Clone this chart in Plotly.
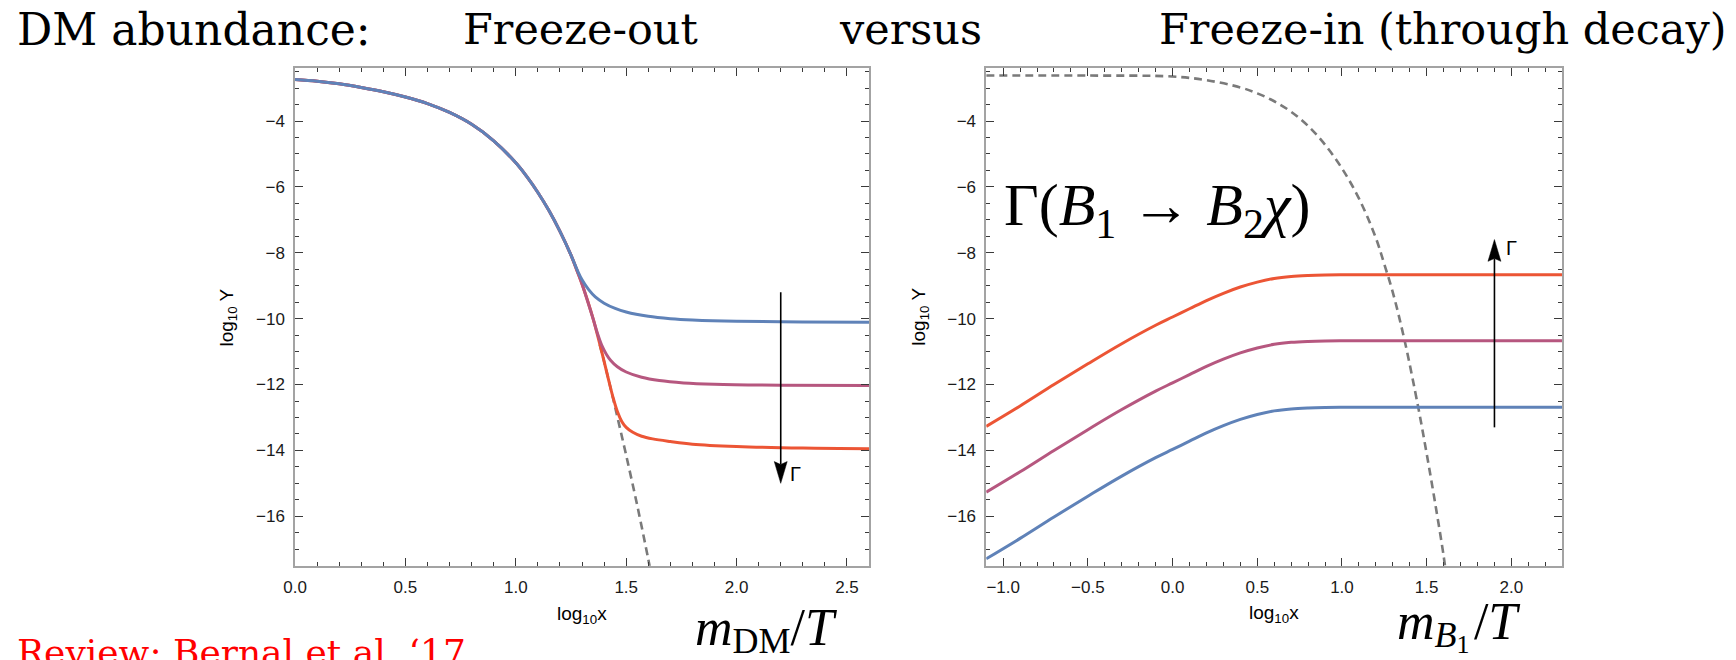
import plotly.graph_objects as go

W, H = 1736, 660

# ---- Freeze-out panel (log10 x, log10 Y) ----
fo_common_x = [0.0, 0.1, 0.2, 0.3, 0.4, 0.5, 0.6, 0.7, 0.8, 0.9, 1.0, 1.05, 1.1, 1.15, 1.2, 1.25]
fo_common_y = [-2.74, -2.79, -2.87, -2.98, -3.11, -3.27, -3.47, -3.74, -4.10, -4.60, -5.27, -5.69,
               -6.17, -6.72, -7.35, -8.07]

fo_blue_tail_x = [1.28, 1.30, 1.33, 1.36, 1.40, 1.45, 1.50, 1.60, 1.70, 1.80, 2.00, 2.30, 2.60]
fo_blue_tail_y = [-8.55, -8.82, -9.12, -9.34, -9.53, -9.69, -9.80, -9.93, -10.00, -10.04, -10.08,
                  -10.10, -10.11]

fo_purple_tail_x = [1.28, 1.30, 1.35, 1.37, 1.39, 1.41, 1.43, 1.46, 1.50, 1.57, 1.65, 1.76, 1.90, 2.20, 2.60]
fo_purple_tail_y = [-8.59, -8.95, -10.00, -10.45, -10.82, -11.08, -11.27, -11.46, -11.62, -11.78,
                    -11.88, -11.95, -11.99, -12.02, -12.03]

fo_red_tail_x = [1.28, 1.30, 1.35, 1.40, 1.42, 1.44, 1.46, 1.48, 1.50, 1.53, 1.57, 1.62, 1.70, 1.80,
                 2.00, 2.30, 2.60]
fo_red_tail_y = [-8.59, -8.95, -10.00, -11.30, -11.85, -12.38, -12.82, -13.12, -13.30, -13.45, -13.57,
                 -13.65, -13.73, -13.81, -13.88, -13.93, -13.95]

fo_eq_x = [1.38, 1.40, 1.42, 1.44, 1.46, 1.50, 1.55, 1.60, 1.62]
fo_eq_y = [-10.78, -11.30, -11.85, -12.40, -12.98, -14.15, -15.67, -17.30, -18.00]

# ---- Freeze-in panel ----
fi_x = [-1.1, -0.9, -0.7, -0.5, -0.3, -0.1, 0.0, 0.1, 0.2, 0.3, 0.4, 0.5, 0.6, 0.7, 0.8, 0.9, 1.0, 1.5, 2.3]
fi_red_y = [-13.27, -12.65, -12.00, -11.37, -10.76, -10.20, -9.95, -9.70, -9.45, -9.23, -9.04, -8.89,
            -8.78, -8.72, -8.69, -8.675, -8.67, -8.67, -8.67]
fi_purple_y = [-15.27, -14.65, -14.00, -13.37, -12.76, -12.20, -11.95, -11.70, -11.45, -11.23, -11.04,
               -10.89, -10.78, -10.72, -10.69, -10.675, -10.67, -10.67, -10.67]
fi_blue_y = [-17.29, -16.67, -16.02, -15.39, -14.78, -14.22, -13.97, -13.72, -13.47, -13.25, -13.06,
             -12.91, -12.80, -12.74, -12.71, -12.695, -12.69, -12.69, -12.69]

fi_eq_x = [-1.1, -0.5, 0.0, 0.2, 0.4, 0.5, 0.6, 0.7, 0.8, 0.9, 1.0, 1.1, 1.2, 1.25, 1.3, 1.37, 1.45,
           1.5, 1.55, 1.6, 1.62]
fi_eq_y = [-2.62, -2.62, -2.65, -2.76, -2.98, -3.16, -3.40, -3.72, -4.15, -4.72, -5.44, -6.35, -7.55,
           -8.35, -9.20, -10.67, -12.69, -14.10, -15.60, -17.20, -18.00]

BLUE = "#5F82B8"
PURPLE = "#B6577F"
RED = "#EC5535"
GRAY = "#7A7A7A"

# plot frame positions (pixels)
L1, R1 = 285, 863
L2, R2 = 981, 1561
TOP, BOT = 68.3, 565.7


def px(x):
    return x / W


def py(y):
    return 1 - y / H


fig = go.Figure()

line_kw = dict(mode="lines", line_shape="spline", hoverinfo="skip", showlegend=False)

fig.add_trace(go.Scatter(x=fo_eq_x, y=fo_eq_y, line=dict(color=GRAY, width=2.6, dash="8px,5px"),
                         xaxis="x", yaxis="y", **line_kw))
fig.add_trace(go.Scatter(x=fo_common_x + fo_red_tail_x, y=fo_common_y + fo_red_tail_y,
                         line=dict(color=RED, width=3), xaxis="x", yaxis="y", **line_kw))
fig.add_trace(go.Scatter(x=fo_common_x + fo_purple_tail_x, y=fo_common_y + fo_purple_tail_y,
                         line=dict(color=PURPLE, width=3), xaxis="x", yaxis="y", **line_kw))
fig.add_trace(go.Scatter(x=fo_common_x + fo_blue_tail_x, y=fo_common_y + fo_blue_tail_y,
                         line=dict(color=BLUE, width=3), xaxis="x", yaxis="y", **line_kw))

fig.add_trace(go.Scatter(x=fi_eq_x, y=fi_eq_y, line=dict(color=GRAY, width=2.6, dash="8px,5px"),
                         xaxis="x2", yaxis="y2", **line_kw))
fig.add_trace(go.Scatter(x=fi_x, y=fi_red_y, line=dict(color=RED, width=3), xaxis="x2", yaxis="y2", **line_kw))
fig.add_trace(go.Scatter(x=fi_x, y=fi_purple_y, line=dict(color=PURPLE, width=3), xaxis="x2", yaxis="y2", **line_kw))
fig.add_trace(go.Scatter(x=fi_x, y=fi_blue_y, line=dict(color=BLUE, width=3), xaxis="x2", yaxis="y2", **line_kw))

tickfont = dict(family="Liberation Sans, Arial, sans-serif", size=17, color="#1a1a1a")
frame = dict(showline=True, linecolor="#a3a3a3", linewidth=1.5, mirror="ticks", showgrid=False,
             zeroline=False, ticks="inside", ticklen=8, tickwidth=1.1, tickcolor="#3a3a3a",
             tickfont=tickfont, ticklabelstandoff=5)
minor = dict(ticklen=4, ticks="inside", tickcolor="#3a3a3a", tickwidth=1)

fig.update_layout(
    width=W, height=H, margin=dict(l=0, r=0, t=0, b=0),
    paper_bgcolor="white", plot_bgcolor="white",
    xaxis=dict(domain=[px(L1), px(R1)], range=[0, 2.6], tick0=0, dtick=0.5, tickformat=".1f",
               minor=dict(dtick=0.1, **minor), anchor="y", **frame),
    yaxis=dict(domain=[py(BOT), py(TOP)], range=[-17.5, -2.4], tick0=0, dtick=2,
               minor=dict(dtick=0.5, **minor), anchor="x", **frame),
    xaxis2=dict(domain=[px(L2), px(R2)], range=[-1.1, 2.3], tick0=0, dtick=0.5, tickformat=".1f",
                minor=dict(dtick=0.1, **minor), anchor="y2", **frame),
    yaxis2=dict(domain=[py(BOT), py(TOP)], range=[-17.5, -2.4], tick0=0, dtick=2,
                minor=dict(dtick=0.5, **minor), anchor="x2", **frame),
)

# Γ arrows: shaft + slim arrowhead
ARROW_LEFT = dict(x=2.2, tail=-9.2, tip=-15.0, xref="x", yref="y", xscale=222.3)
ARROW_RIGHT = dict(x=1.9, tail=-13.3, tip=-7.6, xref="x2", yref="y2", xscale=170.0)
YSCALE = 33.3  # pixels per unit of log10 Y
HEAD_LEN, HEAD_HALF, NOTCH = 22, 6.5, 3

shapes = []
for a in (ARROW_LEFT, ARROW_RIGHT):
    d = 1 if a["tip"] > a["tail"] else -1
    base = a["tip"] - d * HEAD_LEN / YSCALE
    notch = base + d * NOTCH / YSCALE
    hw = HEAD_HALF / a["xscale"]
    shapes.append(dict(type="line", xref=a["xref"], yref=a["yref"], x0=a["x"], x1=a["x"],
                       y0=a["tail"], y1=notch, line=dict(color="black", width=1.6)))
    path = (f"M {a['x']},{a['tip']} L {a['x'] - hw},{base} L {a['x']},{notch} "
            f"L {a['x'] + hw},{base} Z")
    shapes.append(dict(type="path", xref=a["xref"], yref=a["yref"], path=path,
                       fillcolor="black", line=dict(color="black", width=0.5)))
fig.update_layout(shapes=shapes)

serif = "DejaVu Serif, serif"
math = "Liberation Serif, Times New Roman, serif"
sans = "Liberation Sans, Arial, sans-serif"

ann = []


def text(x, y, s, size, family, color="black", xanchor="left", yanchor="middle", angle=0, ref="paper"):
    if ref == "paper":
        xr, yr, xv, yv = "paper", "paper", px(x), py(y)
    else:
        xr, yr, xv, yv = ref[0], ref[1], x, y
    ann.append(dict(x=xv, y=yv, xref=xr, yref=yr, text=s, showarrow=False,
                    xanchor=xanchor, yanchor=yanchor, textangle=angle,
                    font=dict(size=size, family=family, color=color)))


def lowered(s, size, drop):
    # small text sitting below the baseline, like a TeX subscript
    return f'<span style="font-size:{size}px;baseline-shift:-{drop}px">{s}</span>'


text(3, 29, "DM abundance:", 44, serif)
text(452, 29, "Freeze-out", 43, serif)
text(831, 29, "versus", 43, serif)
text(1153, 29, "Freeze-in (through decay)", 43, serif)
text(3, 652, "Review: Bernal et al. ‘17", 36, serif, color="#ff0000")

text(218, 317, "log<sub>10</sub> Y", 19, sans, xanchor="center", angle=-90)
text(914, 317, "log<sub>10</sub> Y", 19, sans, xanchor="center", angle=-90)
text((L1 + R1) / 2, 615, "log<sub>10</sub>x", 19, sans, xanchor="center")
text((L2 + R2) / 2, 614, "log<sub>10</sub>x", 19, sans, xanchor="center")

text(759, 630, "<i>m</i>" + lowered("DM", 36, 8) + "/<i>T</i>", 52, math, xanchor="center")
text(1457, 626, "<i>m</i>" + lowered("<i>B</i>", 36, 8) + lowered("1", 26, 14) + "\u200a/<i>T</i>",
     52, math, xanchor="center")

text(-0.094, -6.68, "Γ(<i>B</i><sub>1</sub> → <i>B</i><sub>2</sub><i>χ</i>)", 60, math,
     xanchor="center", ref=("x2", "y2"))
text(2.235, -14.72, "Γ", 20, sans, ref=("x", "y"))
text(1.955, -7.85, "Γ", 20, sans, ref=("x2", "y2"))

fig.update_layout(annotations=ann)

fig.write_html("out.html")
